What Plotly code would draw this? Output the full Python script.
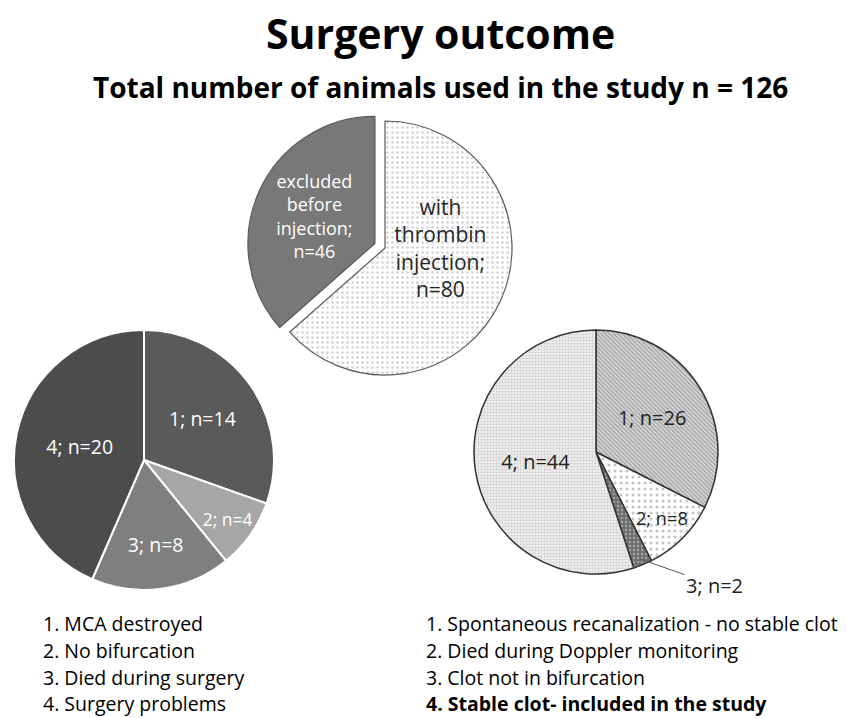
import math
import plotly.graph_objects as go

W, H = 846, 718

# ---- data ----
top_labels = ["with<br>thrombin<br>injection;<br>n=80", "excluded<br>before<br>injection;<br>n=46"]
top_values = [80, 46]

left_labels = ["1; n=14", "2; n=4", "3; n=8", "4; n=20"]
left_values = [14, 4, 8, 20]

right_labels = ["1; n=26", "2; n=8", "3; n=2", "4; n=44"]
right_values = [26, 8, 2, 44]

left_legend = ["1. MCA destroyed", "2. No bifurcation", "3. Died during surgery", "4. Surgery problems"]
right_legend = ["1. Spontaneous recanalization - no stable clot", "2. Died during Doppler monitoring",
                "3. Clot not in bifurcation", "<b>4. Stable clot- included in the study</b>"]

title = "<b>Surgery outcome</b>"
subtitle = "<b>Total number of animals used in the study n = 126</b>"

FONT = "Open Sans"


def dom(cx, cy, r, pull=0.0):
    half = r * (1 + pull)
    return dict(x=[(cx - half) / W, (cx + half) / W],
                y=[(H - cy - half) / H, (H - cy + half) / H])


fig = go.Figure()

# top pie
top_pull = 0.087
fig.add_trace(go.Pie(
    values=top_values, text=top_labels, textinfo="text",
    sort=False, direction="clockwise", rotation=0,
    pull=[0, top_pull],
    marker=dict(colors=["white", "#787878"],
                line=dict(color="#5a5a5a", width=1.2),
                pattern=dict(shape=[".", ""], fgcolor=["#cfcfcf", "#787878"],
                             bgcolor=["white", "#787878"], size=5, solidity=0.2)),
    textfont=dict(family=FONT, size=21, color=["#262626", "white"]),
    insidetextorientation="horizontal", textposition="inside",
    domain=dom(385, 248, 127, top_pull), showlegend=False, hoverinfo="skip",
))

# left pie
fig.add_trace(go.Pie(
    values=left_values, text=left_labels, textinfo="text",
    sort=False, direction="clockwise", rotation=0,
    marker=dict(colors=["#5a5a5a", "#a6a6a6", "#7f7f7f", "#4c4c4c"],
                line=dict(color="white", width=2)),
    textfont=dict(family=FONT, size=19.5, color="white"),
    insidetextorientation="horizontal", textposition="inside",
    domain=dom(144, 460, 130), showlegend=False, hoverinfo="skip",
))

# right pie
R_CX, R_CY, R_R = 596, 452, 122
fig.add_trace(go.Pie(
    values=right_values, text=right_labels,
    texttemplate=["%{text}", "%{text}", "", "%{text}"],
    sort=False, direction="clockwise", rotation=0,
    marker=dict(colors=["#c4c4c4", "white", "#6e6e6e", "#ededed"],
                line=dict(color="#333333", width=1.5),
                pattern=dict(shape=["\\", ".", ".", "."],
                             fgcolor=["#9a9a9a", "#c4c4c4", "#a0a0a0", "#cdcdcd"],
                             bgcolor=["#d8d8d8", "white", "#6e6e6e", "#efefef"],
                             size=[3, 6, 4, 3], solidity=[0.4, 0.2, 0.3, 0.35])),
    textfont=dict(family=FONT, size=20, color="#222222"),
    insidetextorientation="horizontal", textposition="inside",
    domain=dom(R_CX, R_CY, R_R), showlegend=False, hoverinfo="skip",
))

# leader label for the small slice 3 of the right pie (angle derived from the values)
total = sum(right_values)
mid = sum(right_values[:2]) + right_values[2] / 2
theta = 2 * math.pi * mid / total
px = R_CX + R_R * 0.95 * math.sin(theta)
py = R_CY - R_R * 0.95 * math.cos(theta)

annotations = [
    dict(text=title, x=0.521, y=1 - 33 / H, xref="paper", yref="paper", showarrow=False,
         font=dict(family=FONT, size=41, color="black"), xanchor="center", yanchor="middle"),
    dict(text=subtitle, x=0.521, y=1 - 87 / H, xref="paper", yref="paper", showarrow=False,
         font=dict(family=FONT, size=28, color="black"), xanchor="center", yanchor="middle"),
    dict(text=right_labels[2], x=px / W, y=1 - py / H, xref="paper", yref="paper",
         showarrow=True, arrowhead=0, arrowwidth=1, arrowcolor="#555555", standoff=0,
         ax=74, ay=26, font=dict(family=FONT, size=20, color="#222222")),
]
ys = [623, 650, 677, 703]
for i, t in enumerate(left_legend):
    annotations.append(dict(text=t, x=42 / W, y=1 - ys[i] / H, xref="paper", yref="paper",
                            showarrow=False, xanchor="left", yanchor="middle", borderpad=0,
                            font=dict(family=FONT, size=19.5, color="black")))
for i, t in enumerate(right_legend):
    annotations.append(dict(text=t, x=425 / W, y=1 - ys[i] / H, xref="paper", yref="paper",
                            showarrow=False, xanchor="left", yanchor="middle", borderpad=0,
                            font=dict(family=FONT, size=19.5, color="black")))

fig.update_layout(width=W, height=H, margin=dict(l=0, r=0, t=0, b=0),
                  paper_bgcolor="white", plot_bgcolor="white",
                  annotations=annotations, font=dict(family=FONT))

fig.write_html("out.html")
